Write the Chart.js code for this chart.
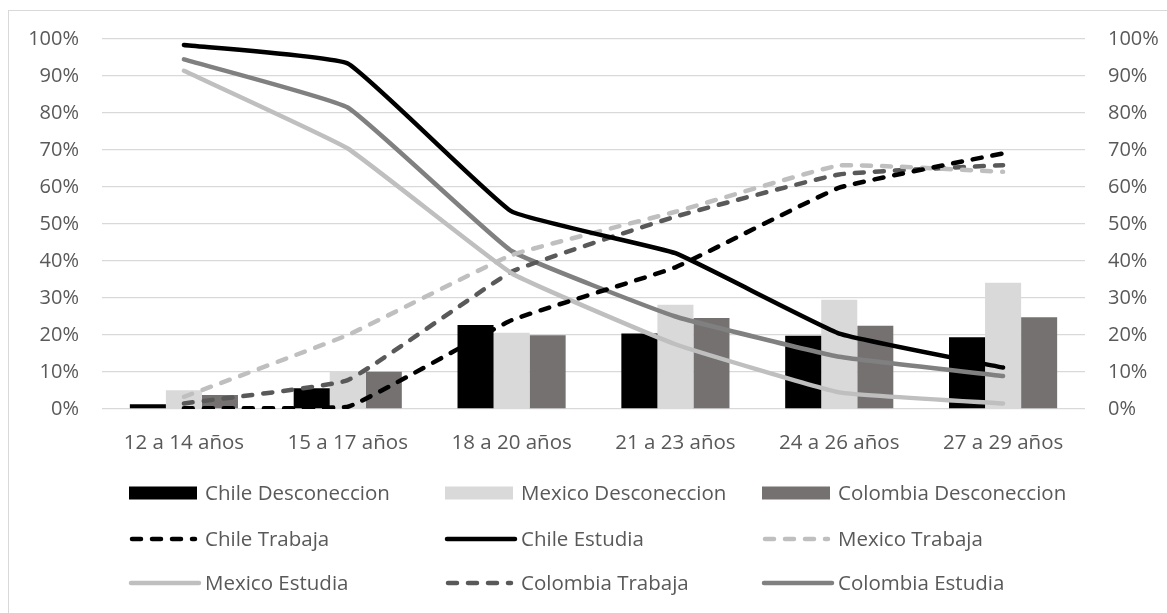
<!DOCTYPE html>
<html>
<head>
<meta charset="utf-8">
<script src="https://cdn.jsdelivr.net/npm/chart.js@4.4.1/dist/chart.umd.min.js"></script>
<style>
  html, body { margin: 0; padding: 0; background: #fff; }
  #wrap { position: relative; width: 1167px; height: 613px; }
</style>
</head>
<body>
<div id="wrap"><canvas id="chart"></canvas></div>
<script>
const categories = ["12 a 14 años", "15 a 17 años", "18 a 20 años", "21 a 23 años", "24 a 26 años", "27 a 29 años"];

// valores en %
const chileDesconeccion = [1.3, 5.6, 22.7, 20.4, 19.8, 19.4];
const mexicoDesconeccion = [5.1, 10.1, 20.6, 28.2, 29.5, 34.1];
const colombiaDesconeccion = [3.8, 10.1, 19.9, 24.6, 22.5, 24.8];
const chileTrabaja = [0.2, 0.6, 24.0, 38.3, 59.8, 69.1];
const chileEstudia = [98.4, 93.4, 53.4, 42.1, 20.4, 11.2];
const mexicoTrabaja = [3.3, 20.0, 41.6, 53.3, 65.8, 64.1];
const mexicoEstudia = [91.4, 70.4, 36.7, 17.5, 4.5, 1.5];
const colombiaTrabaja = [1.5, 7.8, 37.1, 52.0, 63.4, 65.9];
const colombiaEstudia = [94.5, 81.5, 42.7, 25.0, 14.1, 8.9];

const yTicks = [0, 10, 20, 30, 40, 50, 60, 70, 80, 90, 100];

const FONT = "'Open Sans', 'Noto Sans', sans-serif";
const TEXT = "#595959";

function barSet(label, data, color) {
  return {
    type: "bar", label: label, data: data,
    backgroundColor: color, borderWidth: 0,
    categoryPercentage: 0.66, barPercentage: 1.0,
    order: 2, yAxisID: "y"
  };
}

function lineSet(label, data, color, dashed) {
  return {
    type: "line", label: label, data: data,
    borderColor: color, backgroundColor: color,
    borderWidth: 4.5, borderDash: dashed ? [9, 11] : [],
    borderCapStyle: "round", borderJoinStyle: "round",
    pointRadius: 0, tension: 0.1, fill: false,
    order: 1, yAxisID: "y"
  };
}

// leyenda en cuadricula 3x3, como la del original
const gridLegend = {
  id: "gridLegend",
  afterDraw(chart) {
    const ctx = chart.ctx;
    const colX = [129, 445, 762];
    const rowY = [493, 539, 583];
    ctx.save();
    chart.data.datasets.forEach((ds, i) => {
      const x = colX[i % 3];
      const y = rowY[Math.floor(i / 3)];
      if (ds.type === "bar") {
        ctx.fillStyle = ds.backgroundColor;
        ctx.fillRect(x, y - 6.5, 68, 13);
      } else {
        ctx.strokeStyle = ds.borderColor;
        ctx.lineWidth = 4.5;
        ctx.lineCap = "round";
        ctx.setLineDash(ds.borderDash.length ? [9, 11] : []);
        ctx.beginPath();
        if (ds.borderDash.length) {
          ctx.moveTo(x + 3, y);
          ctx.lineTo(x + 66, y);
        } else {
          ctx.moveTo(x + 2, y);
          ctx.lineTo(x + 70, y);
        }
        ctx.stroke();
        ctx.setLineDash([]);
      }
      ctx.fillStyle = TEXT;
      ctx.font = "20.5px " + FONT;
      ctx.textBaseline = "middle";
      ctx.textAlign = "left";
      ctx.fillText(ds.label, x + 76, y + 1);
    });
    ctx.restore();
  }
};

// marco exterior (solo se ven los bordes superior e izquierdo)
const frame = {
  id: "frame",
  beforeDraw(chart) {
    const ctx = chart.ctx;
    ctx.save();
    ctx.fillStyle = "#ffffff";
    ctx.fillRect(0, 0, chart.width, chart.height);
    ctx.strokeStyle = "#d9d9d9";
    ctx.lineWidth = 1;
    ctx.strokeRect(8.5, 10.5, 1200, 700);
    ctx.restore();
  }
};

const ctx = document.getElementById("chart").getContext("2d");
new Chart(ctx, {
  data: {
    labels: categories,
    datasets: [
      barSet("Chile Desconeccion", chileDesconeccion, "#000000"),
      barSet("Mexico Desconeccion", mexicoDesconeccion, "#d9d9d9"),
      barSet("Colombia Desconeccion", colombiaDesconeccion, "#767171"),
      lineSet("Chile Trabaja", chileTrabaja, "#000000", true),
      lineSet("Chile Estudia", chileEstudia, "#000000", false),
      lineSet("Mexico Trabaja", mexicoTrabaja, "#bfbfbf", true),
      lineSet("Mexico Estudia", mexicoEstudia, "#bfbfbf", false),
      lineSet("Colombia Trabaja", colombiaTrabaja, "#595959", true),
      lineSet("Colombia Estudia", colombiaEstudia, "#808080", false)
    ]
  },
  options: {
    responsive: true,
    maintainAspectRatio: false,
    animation: false,
    devicePixelRatio: 1,
    layout: { padding: { top: 39, bottom: 0, left: 0, right: 0 } },
    plugins: {
      legend: { display: false },
      tooltip: { enabled: false }
    },
    scales: {
      x: {
        offset: true,
        grid: { display: false },
        border: { display: false },
        ticks: { color: TEXT, font: { family: FONT, size: 20.5 }, padding: 14, maxRotation: 0 },
        afterFit(scale) { scale.height = 204; }
      },
      y: {
        position: "left",
        min: 0, max: 100,
        afterBuildTicks(scale) { scale.ticks = yTicks.map(v => ({ value: v })); },
        grid: { color: "#d9d9d9", lineWidth: 1.3, drawTicks: false },
        border: { display: false },
        ticks: { color: TEXT, font: { family: FONT, size: 20 }, padding: 23, callback: v => v + "%" },
        afterFit(scale) { scale.width = 102; }
      },
      y2: {
        position: "right",
        min: 0, max: 100,
        afterBuildTicks(scale) { scale.ticks = yTicks.map(v => ({ value: v })); },
        grid: { display: false, drawTicks: false },
        border: { display: false },
        ticks: { color: TEXT, font: { family: FONT, size: 20 }, padding: 23, callback: v => v + "%" },
        afterFit(scale) { scale.width = 82; }
      }
    }
  },
  plugins: [frame, gridLegend]
});
</script>
</body>
</html>
